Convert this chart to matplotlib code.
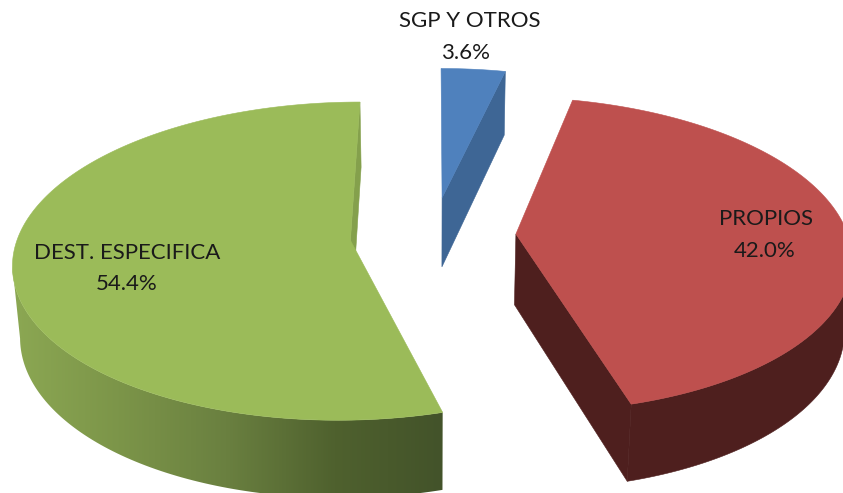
import numpy as np
from matplotlib import pyplot as plt
from matplotlib.colors import LinearSegmentedColormap
from matplotlib.patches import Polygon

# Data
names = ["SGP Y OTROS", "PROPIOS", "DEST. ESPECIFICA"]
shares = [3.6, 42.0, 54.4]

# Look of the 3D pie
top_colors = ["#4F81BD", "#BE504E", "#9BBB59"]
cut_colors = ["#3E6695", "#4E1F1E", "#84A04C"]
label_xy = [(470, 21, 466, 53), (766, 219, 765, 251), (127, 253, 127, 284)]

# Projection (pixels of the figure)
XC, YC = 433, 235
RX, RY = 332, 155
EXPLODE = 0.25
K_DEPTH = 0.13
K_DROP = 0.018
DROP = 72

green_wall = LinearSegmentedColormap.from_list(
    "green_wall", ["#8CA853", "#7C9549", "#6A8040", "#4F612E", "#43532A"]
)


def project(u, v, z=0.0):
    w = 1 + K_DEPTH * v + K_DROP * z
    return XC + RX * u / w, YC + (-RY * v + DROP * z) / w


def slice_points(t1, t2, n=200):
    """Clockwise angles from 12 o'clock, degrees. Returns rim and apex in the pie plane."""
    mid = np.radians((t1 + t2) / 2)
    ou, ov = EXPLODE * np.sin(mid), EXPLODE * np.cos(mid)
    t = np.radians(np.linspace(t1, t2, n))
    return ou + np.sin(t), ov + np.cos(t), ou, ov


edges = np.concatenate([[0], np.cumsum(shares)]) / np.sum(shares) * 360

fig = plt.figure(figsize=(8.43, 4.93), dpi=100)
ax = fig.add_axes([0, 0, 1, 1])

for i in range(len(shares)):
    t1, t2 = edges[i], edges[i + 1]
    ru, rv, ou, ov = slice_points(t1, t2)
    xt, yt = project(ru, rv)
    xb, yb = project(ru, rv, 1)
    ax_, ay_ = project(ou, ov)
    bx_, by_ = project(ou, ov, 1)

    # outer wall, only the arc that faces the camera
    if i == 1:
        k = np.argmax(xt)
        wall_x = np.r_[xt[k:], xb[k:][::-1]]
        wall_y = np.r_[yt[k:], yb[k:][::-1]]
        ax.fill(wall_x, wall_y, color=cut_colors[i], lw=0.4, zorder=2 + i)
    elif i == 2:
        # green wall darkens towards the front right
        k = np.argmin(xt)
        wall_x = np.r_[xt[:k + 1], xb[:k + 1][::-1]]
        wall_y = np.r_[yt[:k + 1], yb[:k + 1][::-1]]
        ramp = np.linspace(1, 0, 256).reshape(1, -1)
        im = ax.imshow(ramp, cmap=green_wall.reversed(), extent=(10, 443, 493, 0),
                       aspect="auto", zorder=2 + i)
        im.set_clip_path(Polygon(np.c_[wall_x, wall_y], transform=ax.transData))

    # flat cut face that the camera can see
    ax.fill([ax_, xt[-1], xb[-1], bx_], [ay_, yt[-1], yb[-1], by_],
            color=cut_colors[i], lw=0.4, zorder=2 + i)

    # top surface
    ax.fill(np.r_[ax_, xt], np.r_[ay_, yt], color=top_colors[i], lw=0.4, zorder=6 + i)

for i in range(len(shares)):
    x1, y1, x2, y2 = label_xy[i]
    ax.text(x1, y1, names[i], ha="center", va="center", family="Lato",
            fontsize=16, color="#1A1A1A", zorder=20)
    ax.text(x2, y2, f"{shares[i]:.1f}%", ha="center", va="center", family="Lato",
            fontsize=16, color="#1A1A1A", zorder=20)

ax.set_xlim(0, 843)
ax.set_ylim(493, 0)
ax.axis("off")

fig.savefig("out.png", dpi=100, facecolor="white")
plt.close(fig)
